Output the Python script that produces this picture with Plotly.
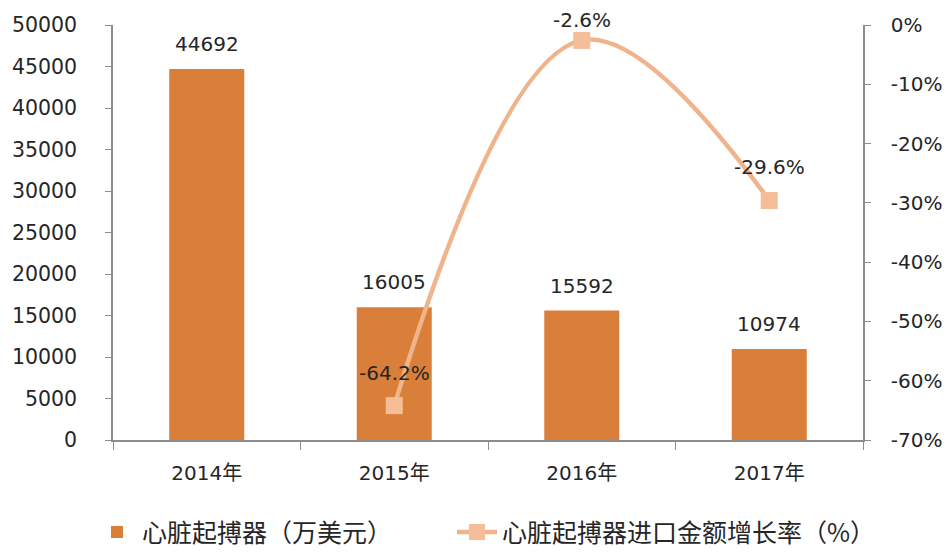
import plotly.graph_objects as go

years = ["2014年", "2015年", "2016年", "2017年"]
import_value = [44692, 16005, 15592, 10974]          # 万美元
growth_years = ["2015年", "2016年", "2017年"]
growth_rate = [-64.2, -2.6, -29.6]                   # %

left_ticks = [0, 5000, 10000, 15000, 20000, 25000, 30000, 35000, 40000, 45000, 50000]
right_ticks = [0, -10, -20, -30, -40, -50, -60, -70]
right_tick_text = ["0%", "-10%", "-20%", "-30%", "-40%", "-50%", "-60%", "-70%"]

bar_color = "#D97F3A"
line_color = "#F0B48C"
marker_color = "#F5BE98"
text_color = "#262626"
axis_color = "#8C8C8C"
num_font = "DejaVu Sans, Noto Sans CJK SC"
legend_font = dict(size=25, family="Noto Sans CJK SC", color=text_color)

W, H = 948, 554
M_L, M_R, M_T, M_B = 113, 85, 25, 114
plot_h = H - M_T - M_B
y2_range = [-70, 0]

fig = go.Figure()

fig.add_trace(go.Bar(
    x=years, y=import_value,
    name="心脏起搏器（万美元）",
    marker=dict(color=bar_color, line=dict(width=0)),
    width=0.4,
    yaxis="y",
    legend="legend",
))

fig.add_trace(go.Scatter(
    x=growth_years, y=growth_rate,
    name="心脏起搏器进口金额增长率（%）",
    mode="lines+markers",
    line=dict(color=line_color, width=4.5, shape="spline", smoothing=1.1),
    marker=dict(symbol="square", size=17, color=marker_color),
    cliponaxis=False,
    yaxis="y2",
    legend="legend2",
))

# value labels above the bars
for x, v in zip(years, import_value):
    fig.add_annotation(x=x, y=v, xref="x", yref="y", text=str(v),
                       showarrow=False, yanchor="middle", yshift=25,
                       font=dict(size=20, color=text_color, family=num_font))

# growth-rate labels above the markers, kept inside the top edge of the figure
for x, v in zip(growth_years, growth_rate):
    px_from_top = M_T + (y2_range[1] - v) / (y2_range[1] - y2_range[0]) * plot_h
    shift = min(33, px_from_top - 20)
    fig.add_annotation(x=x, y=v, xref="x", yref="y2", text=f"{v}%",
                       showarrow=False, yanchor="middle", yshift=shift,
                       font=dict(size=20, color=text_color, family=num_font))

fig.update_layout(
    width=W, height=H,
    margin=dict(l=M_L, r=M_R, t=M_T, b=M_B, autoexpand=False),
    paper_bgcolor="white",
    plot_bgcolor="white",
    font=dict(family=num_font, color=text_color),
    showlegend=True,
    legend=dict(
        orientation="h", x=-0.028, xanchor="left", y=-0.222, yanchor="middle",
        font=legend_font, itemwidth=40,
    ),
    legend2=dict(
        orientation="h", x=0.452, xanchor="left", y=-0.222, yanchor="middle",
        font=legend_font, itemwidth=40,
    ),
    xaxis=dict(
        categoryorder="array", categoryarray=years,
        showline=True, linecolor=axis_color, linewidth=1.5,
        ticks="outside", tickson="boundaries", ticklen=8, tickcolor=axis_color,
        tickfont=dict(size=20, family=num_font, color=text_color),
        ticklabelstandoff=14,
        showgrid=False,
    ),
    yaxis=dict(
        range=[0, 50000], tickvals=left_ticks,
        ticktext=[str(t) for t in left_ticks],
        showline=True, linecolor=axis_color, linewidth=1.5,
        ticks="outside", ticklen=6, tickcolor=axis_color,
        tickfont=dict(size=20.5, color=text_color),
        ticklabelstandoff=24,
        showgrid=False, zeroline=False,
    ),
    yaxis2=dict(
        range=y2_range, tickvals=right_ticks, ticktext=right_tick_text,
        overlaying="y", side="right",
        showline=True, linecolor=axis_color, linewidth=1.5,
        ticks="outside", ticklen=6, tickcolor=axis_color,
        tickfont=dict(size=20, color=text_color),
        ticklabelstandoff=16,
        showgrid=False, zeroline=False,
    ),
    bargap=0.6,
)

fig.write_html("out.html")
